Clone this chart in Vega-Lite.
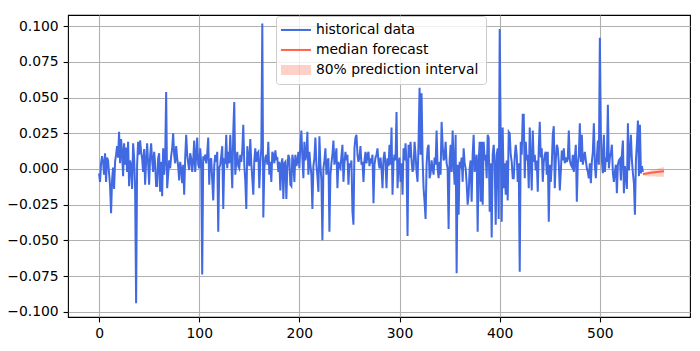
{
"$schema": "https://vega.github.io/schema/vega-lite/v6.json",
"width": 622, "height": 302,
"autosize": "none",
"padding": {"left": 68, "top": 15, "right": 10, "bottom": 34},
"background": "white",
"config": {
  "font": "DejaVu Sans",
  "view": {"stroke": "black", "strokeWidth": 1.1},
  "axis": {"grid": true, "gridColor": "#b0b0b0", "gridWidth": 1.1, "gridOpacity": 1, "domain": false, "tickColor": "black", "tickSize": 4.9, "tickWidth": 1.1, "labelFont": "DejaVu Sans", "labelFontSize": 13.9, "labelColor": "black", "labelPadding": 4.9, "labelOverlap": false, "title": null}
},
"datasets": {
"hist": [
{"x":0,"y":-0.003},{"x":1,"y":-0.009},{"x":2,"y":0.004},{"x":3,"y":0.009},{"x":4,"y":0.005},{"x":5,"y":-0.004},{"x":6,"y":0.011},{"x":7,"y":-0.009},{"x":8,"y":0.008},{"x":9,"y":0.006},
{"x":10,"y":-0.003},{"x":11,"y":-0.012},{"x":12,"y":-0.031},{"x":13,"y":-0.008},{"x":14,"y":0.001},{"x":15,"y":-0.014},{"x":16,"y":0.005},{"x":17,"y":0.010},{"x":18,"y":0.016},{"x":19,"y":0.008},
{"x":20,"y":0.026},{"x":21,"y":0.004},{"x":22,"y":0.021},{"x":23,"y":0.012},{"x":24,"y":-0.005},{"x":25,"y":0.018},{"x":26,"y":0.003},{"x":27,"y":0.015},{"x":28,"y":-0.002},{"x":29,"y":0.019},
{"x":30,"y":-0.012},{"x":31,"y":0.006},{"x":32,"y":0.002},{"x":33,"y":-0.014},{"x":34,"y":0.018},{"x":35,"y":0.008},{"x":36,"y":-0.013},{"x":37,"y":-0.094},{"x":38,"y":0.003},{"x":39,"y":0.019},
{"x":40,"y":0.010},{"x":41,"y":0.020},{"x":42,"y":0.012},{"x":43,"y":0.0075},{"x":44,"y":-0.002},{"x":45,"y":0.014},{"x":46,"y":-0.011},{"x":47,"y":0.006},{"x":48,"y":0.018},{"x":49,"y":0.004},
{"x":50,"y":-0.011},{"x":51,"y":0.009},{"x":52,"y":0.018},{"x":53,"y":0.006},{"x":54,"y":-0.002},{"x":55,"y":0.012},{"x":56,"y":0.004},{"x":57,"y":-0.012},{"x":58,"y":-0.012},{"x":59,"y":0.0075},
{"x":60,"y":0.011},{"x":61,"y":-0.016},{"x":62,"y":0.005},{"x":63,"y":-0.019},{"x":64,"y":0.0145},{"x":65,"y":-0.004},{"x":66,"y":0.006},{"x":67,"y":0.054},{"x":68,"y":-0.0135},{"x":69,"y":-0.004},
{"x":70,"y":0.006},{"x":71,"y":0.0005},{"x":72,"y":0.009},{"x":73,"y":0.0145},{"x":74,"y":0.025},{"x":75,"y":0.010},{"x":76,"y":0.004},{"x":77,"y":0.016},{"x":78,"y":0.0075},{"x":79,"y":0.002},
{"x":80,"y":-0.008},{"x":81,"y":0.005},{"x":82,"y":0.0005},{"x":83,"y":-0.010},{"x":84,"y":0.003},{"x":85,"y":-0.018},{"x":86,"y":0.008},{"x":87,"y":0.024},{"x":88,"y":0.010},{"x":89,"y":0.004},
{"x":90,"y":-0.0007},{"x":91,"y":0.011},{"x":92,"y":0.0075},{"x":93,"y":-0.002},{"x":94,"y":0.006},{"x":95,"y":0.020},{"x":96,"y":-0.002},{"x":97,"y":0.009},{"x":98,"y":0.022},{"x":99,"y":0.003},
{"x":100,"y":0.0005},{"x":101,"y":0.0145},{"x":102,"y":0.004},{"x":103,"y":-0.074},{"x":104,"y":0.009},{"x":105,"y":0.006},{"x":106,"y":0.010},{"x":107,"y":0.004},{"x":108,"y":0.011},{"x":109,"y":0.022},
{"x":110,"y":-0.011},{"x":111,"y":0.006},{"x":112,"y":0.0075},{"x":113,"y":-0.008},{"x":114,"y":-0.022},{"x":115,"y":0.002},{"x":116,"y":0.010},{"x":117,"y":0.005},{"x":118,"y":0.012},{"x":119,"y":-0.044},
{"x":120,"y":0.001},{"x":121,"y":0.003},{"x":122,"y":0.009},{"x":123,"y":0.016},{"x":124,"y":-0.028},{"x":125,"y":0.006},{"x":126,"y":0.005},{"x":127,"y":0.024},{"x":128,"y":0.0005},{"x":129,"y":0.012},
{"x":130,"y":0.004},{"x":131,"y":0.024},{"x":132,"y":0.006},{"x":133,"y":-0.0135},{"x":134,"y":0.026},{"x":135,"y":0.047},{"x":136,"y":-0.004},{"x":137,"y":0.005},{"x":138,"y":0.012},{"x":139,"y":0.002},
{"x":140,"y":0.0005},{"x":141,"y":0.010},{"x":142,"y":0.005},{"x":143,"y":0.013},{"x":144,"y":0.031},{"x":145,"y":0.003},{"x":146,"y":-0.008},{"x":147,"y":-0.028},{"x":148,"y":0.016},{"x":149,"y":0.0075},
{"x":150,"y":0.002},{"x":151,"y":0.021},{"x":152,"y":0.004},{"x":153,"y":-0.0065},{"x":154,"y":-0.018},{"x":155,"y":0.006},{"x":156,"y":0.0145},{"x":157,"y":0.005},{"x":158,"y":0.011},{"x":159,"y":0.012},
{"x":160,"y":-0.0135},{"x":161,"y":0.004},{"x":162,"y":0.0145},{"x":163,"y":0.102},{"x":164,"y":-0.034},{"x":165,"y":0.0005},{"x":166,"y":0.008},{"x":167,"y":0.010},{"x":168,"y":0.003},{"x":169,"y":0.019},
{"x":170,"y":-0.004},{"x":171,"y":0.005},{"x":172,"y":-0.009},{"x":173,"y":0.012},{"x":174,"y":0.010},{"x":175,"y":0.004},{"x":176,"y":0.013},{"x":177,"y":0.007},{"x":178,"y":0.0075},{"x":179,"y":-0.002},
{"x":180,"y":0.005},{"x":181,"y":-0.015},{"x":182,"y":0.003},{"x":183,"y":0.0075},{"x":184,"y":-0.021},{"x":185,"y":0.004},{"x":186,"y":0.005},{"x":187,"y":-0.021},{"x":188,"y":0.0005},{"x":189,"y":0.010},
{"x":190,"y":0.0075},{"x":191,"y":-0.011},{"x":192,"y":-0.012},{"x":193,"y":0.010},{"x":194,"y":0.005},{"x":195,"y":-0.009},{"x":196,"y":0.010},{"x":197,"y":0.002},{"x":198,"y":0.005},{"x":199,"y":0.012},
{"x":200,"y":0.0005},{"x":201,"y":0.017},{"x":202,"y":0.027},{"x":203,"y":0.0075},{"x":204,"y":-0.0065},{"x":205,"y":0.019},{"x":206,"y":0.006},{"x":207,"y":0.010},{"x":208,"y":0.026},{"x":209,"y":-0.004},
{"x":210,"y":0.012},{"x":211,"y":0.003},{"x":212,"y":-0.004},{"x":213,"y":-0.028},{"x":214,"y":0.002},{"x":215,"y":0.0075},{"x":216,"y":0.022},{"x":217,"y":0.003},{"x":218,"y":-0.005},{"x":219,"y":-0.016},
{"x":220,"y":0.023},{"x":221,"y":0.003},{"x":222,"y":-0.008},{"x":223,"y":-0.050},{"x":224,"y":0.0005},{"x":225,"y":0.006},{"x":226,"y":0.0145},{"x":227,"y":-0.004},{"x":228,"y":0.005},{"x":229,"y":0.0075},
{"x":230,"y":-0.044},{"x":231,"y":-0.004},{"x":232,"y":0.004},{"x":233,"y":0.010},{"x":234,"y":0.020},{"x":235,"y":0.003},{"x":236,"y":0.008},{"x":237,"y":0.0145},{"x":238,"y":-0.0135},{"x":239,"y":0.005},
{"x":240,"y":0.002},{"x":241,"y":0.0005},{"x":242,"y":0.009},{"x":243,"y":0.017},{"x":244,"y":-0.009},{"x":245,"y":0.004},{"x":246,"y":0.012},{"x":247,"y":0.006},{"x":248,"y":0.010},{"x":249,"y":-0.011},
{"x":250,"y":0.004},{"x":251,"y":0.001},{"x":252,"y":0.006},{"x":253,"y":-0.030},{"x":254,"y":-0.039},{"x":255,"y":0.0145},{"x":256,"y":0.022},{"x":257,"y":0.024},{"x":258,"y":0.010},{"x":259,"y":0.005},
{"x":260,"y":0.008},{"x":261,"y":0.016},{"x":262,"y":0.003},{"x":263,"y":0.005},{"x":264,"y":-0.009},{"x":265,"y":0.006},{"x":266,"y":0.012},{"x":267,"y":0.004},{"x":268,"y":0.010},{"x":269,"y":0.012},
{"x":270,"y":0.002},{"x":271,"y":0.0075},{"x":272,"y":0.004},{"x":273,"y":0.010},{"x":274,"y":-0.024},{"x":275,"y":0.003},{"x":276,"y":0.008},{"x":277,"y":0.010},{"x":278,"y":0.0145},{"x":279,"y":0.005},
{"x":280,"y":0.0005},{"x":281,"y":0.008},{"x":282,"y":0.0005},{"x":283,"y":-0.0135},{"x":284,"y":0.0075},{"x":285,"y":0.012},{"x":286,"y":0.004},{"x":287,"y":-0.0135},{"x":288,"y":0.0075},{"x":289,"y":0.002},
{"x":290,"y":0.017},{"x":291,"y":0.003},{"x":292,"y":0.029},{"x":293,"y":-0.018},{"x":294,"y":0.005},{"x":295,"y":0.010},{"x":296,"y":0.006},{"x":297,"y":0.040},{"x":298,"y":-0.0135},{"x":299,"y":0.003},
{"x":300,"y":0.008},{"x":301,"y":-0.009},{"x":302,"y":0.004},{"x":303,"y":-0.018},{"x":304,"y":0.0145},{"x":305,"y":0.006},{"x":306,"y":0.018},{"x":307,"y":0.004},{"x":308,"y":-0.047},{"x":309,"y":0.017},
{"x":310,"y":0.008},{"x":311,"y":0.019},{"x":312,"y":0.006},{"x":313,"y":-0.002},{"x":314,"y":0.0005},{"x":315,"y":0.019},{"x":316,"y":0.010},{"x":317,"y":-0.002},{"x":318,"y":-0.009},{"x":319,"y":0.019},
{"x":320,"y":0.057},{"x":321,"y":0.010},{"x":322,"y":0.053},{"x":323,"y":0.0075},{"x":324,"y":-0.0135},{"x":325,"y":-0.023},{"x":326,"y":-0.035},{"x":327,"y":0.003},{"x":328,"y":0.0145},{"x":329,"y":0.017},
{"x":330,"y":-0.0065},{"x":331,"y":-0.003},{"x":332,"y":0.006},{"x":333,"y":0.0005},{"x":334,"y":-0.004},{"x":335,"y":0.008},{"x":336,"y":0.003},{"x":337,"y":0.027},{"x":338,"y":0.0005},{"x":339,"y":-0.0065},
{"x":340,"y":0.005},{"x":341,"y":-0.004},{"x":342,"y":0.033},{"x":343,"y":0.017},{"x":344,"y":0.006},{"x":345,"y":0.0075},{"x":346,"y":0.019},{"x":347,"y":0.004},{"x":348,"y":0.0005},{"x":349,"y":-0.042},
{"x":350,"y":0.006},{"x":351,"y":0.017},{"x":352,"y":-0.002},{"x":353,"y":0.027},{"x":354,"y":0.004},{"x":355,"y":-0.011},{"x":356,"y":0.024},{"x":357,"y":-0.073},{"x":358,"y":0.003},{"x":359,"y":-0.032},
{"x":360,"y":0.005},{"x":361,"y":0.0005},{"x":362,"y":0.008},{"x":363,"y":-0.009},{"x":364,"y":0.0145},{"x":365,"y":0.004},{"x":366,"y":0.0005},{"x":367,"y":-0.010},{"x":368,"y":-0.025},{"x":369,"y":-0.018},
{"x":370,"y":0.0005},{"x":371,"y":0.006},{"x":372,"y":-0.023},{"x":373,"y":0.010},{"x":374,"y":0.024},{"x":375,"y":-0.002},{"x":376,"y":0.006},{"x":377,"y":0.010},{"x":378,"y":-0.044},{"x":379,"y":0.005},
{"x":380,"y":0.019},{"x":381,"y":-0.023},{"x":382,"y":0.019},{"x":383,"y":-0.025},{"x":384,"y":0.019},{"x":385,"y":0.006},{"x":386,"y":0.010},{"x":387,"y":-0.0065},{"x":388,"y":0.024},{"x":389,"y":0.022},
{"x":390,"y":-0.030},{"x":391,"y":0.004},{"x":392,"y":-0.048},{"x":393,"y":0.010},{"x":394,"y":0.017},{"x":395,"y":0.004},{"x":396,"y":-0.039},{"x":397,"y":0.010},{"x":398,"y":0.0145},{"x":399,"y":-0.035},
{"x":400,"y":0.098},{"x":401,"y":0.020},{"x":402,"y":-0.037},{"x":403,"y":0.029},{"x":404,"y":-0.0135},{"x":405,"y":0.004},{"x":406,"y":-0.018},{"x":407,"y":0.006},{"x":408,"y":-0.022},{"x":409,"y":0.026},
{"x":410,"y":0.025},{"x":411,"y":0.010},{"x":412,"y":0.005},{"x":413,"y":-0.0065},{"x":414,"y":-0.0065},{"x":415,"y":0.008},{"x":416,"y":0.017},{"x":417,"y":0.010},{"x":418,"y":-0.009},{"x":419,"y":0.004},
{"x":420,"y":-0.072},{"x":421,"y":0.019},{"x":422,"y":0.010},{"x":423,"y":0.038},{"x":424,"y":0.038},{"x":425,"y":-0.0065},{"x":426,"y":0.019},{"x":427,"y":0.006},{"x":428,"y":0.010},{"x":429,"y":-0.0135},
{"x":430,"y":0.029},{"x":431,"y":0.006},{"x":432,"y":-0.015},{"x":433,"y":0.027},{"x":434,"y":0.005},{"x":435,"y":0.010},{"x":436,"y":-0.001},{"x":437,"y":0.006},{"x":438,"y":-0.016},{"x":439,"y":0.0145},
{"x":440,"y":0.033},{"x":441,"y":0.008},{"x":442,"y":0.0145},{"x":443,"y":-0.009},{"x":444,"y":0.005},{"x":445,"y":0.010},{"x":446,"y":0.012},{"x":447,"y":-0.004},{"x":448,"y":0.012},{"x":449,"y":-0.037},
{"x":450,"y":0.003},{"x":451,"y":-0.009},{"x":452,"y":0.003},{"x":453,"y":0.024},{"x":454,"y":0.030},{"x":455,"y":-0.0135},{"x":456,"y":0.006},{"x":457,"y":0.017},{"x":458,"y":0.0145},{"x":459,"y":0.004},
{"x":460,"y":-0.015},{"x":461,"y":-0.002},{"x":462,"y":0.013},{"x":463,"y":0.006},{"x":464,"y":0.0145},{"x":465,"y":0.004},{"x":466,"y":0.008},{"x":467,"y":0.005},{"x":468,"y":0.0075},{"x":469,"y":0.027},
{"x":470,"y":0.006},{"x":471,"y":0.003},{"x":472,"y":0.0016},{"x":473,"y":0.010},{"x":474,"y":-0.002},{"x":475,"y":0.008},{"x":476,"y":0.017},{"x":477,"y":-0.023},{"x":478,"y":0.004},{"x":479,"y":0.010},
{"x":480,"y":0.032},{"x":481,"y":0.005},{"x":482,"y":0.024},{"x":483,"y":0.003},{"x":484,"y":0.0075},{"x":485,"y":0.012},{"x":486,"y":0.006},{"x":487,"y":0.0005},{"x":488,"y":-0.002},{"x":489,"y":-0.0065},
{"x":490,"y":0.004},{"x":491,"y":-0.010},{"x":492,"y":0.005},{"x":493,"y":0.012},{"x":494,"y":0.032},{"x":495,"y":0.003},{"x":496,"y":-0.0065},{"x":497,"y":0.008},{"x":498,"y":0.020},{"x":499,"y":0.003},
{"x":500,"y":0.092},{"x":501,"y":0.025},{"x":502,"y":0.006},{"x":503,"y":-0.003},{"x":504,"y":0.024},{"x":505,"y":-0.002},{"x":506,"y":0.008},{"x":507,"y":0.005},{"x":508,"y":0.045},{"x":509,"y":0.0005},
{"x":510,"y":0.008},{"x":511,"y":0.011},{"x":512,"y":0.017},{"x":513,"y":-0.003},{"x":514,"y":-0.009},{"x":515,"y":-0.002},{"x":516,"y":0.003},{"x":517,"y":-0.017},{"x":518,"y":0.003},{"x":519,"y":0.006},
{"x":520,"y":0.007},{"x":521,"y":-0.008},{"x":522,"y":0.010},{"x":523,"y":0.020},{"x":524,"y":-0.017},{"x":525,"y":0.002},{"x":526,"y":-0.005},{"x":527,"y":-0.014},{"x":528,"y":0.032},{"x":529,"y":-0.001},
{"x":530,"y":0.012},{"x":531,"y":0.024},{"x":532,"y":0.006},{"x":533,"y":-0.003},{"x":534,"y":-0.010},{"x":535,"y":-0.032},{"x":536,"y":0.006},{"x":537,"y":0.018},{"x":538,"y":0.034},{"x":539,"y":-0.005},
{"x":540,"y":0.031},{"x":541,"y":-0.003},{"x":542,"y":0.002},{"x":543,"y":-0.002}
],
"fc": [
{"x":543,"m":-0.0035,"lo":-0.0045,"hi":-0.003},
{"x":547,"m":-0.0031,"lo":-0.005,"hi":-0.002},
{"x":551,"m":-0.0027,"lo":-0.0052,"hi":-0.001},
{"x":555,"m":-0.0023,"lo":-0.0053,"hi":-0.0002},
{"x":559,"m":-0.0019,"lo":-0.0054,"hi":0.0006},
{"x":564,"m":-0.0015,"lo":-0.0055,"hi":0.0014}
]
},
"layer": [
{
  "data": {"name": "hist"},
  "mark": {"type": "line", "strokeWidth": 2, "clip": true},
  "encoding": {
    "x": {"field": "x", "type": "quantitative", "scale": {"domain": [-31, 590], "nice": false, "zero": false}, "axis": {"values": [0,100,200,300,400,500], "tickCount": 20, "format": "d"}},
    "y": {"field": "y", "type": "quantitative", "scale": {"domain": [-0.1037, 0.1079], "nice": false, "zero": false}, "axis": {"values": [-0.1,-0.075,-0.05,-0.025,0,0.025,0.05,0.075,0.1], "tickCount": 20, "format": ".3f"}},
    "color": {"datum": "historical data", "type": "nominal",
      "scale": {"domain": ["historical data", "median forecast", "80% prediction interval"], "range": ["#4169e1", "#ff6347", "#ff6347"]},
      "legend": {"title": null, "orient": "none", "legendX": 208, "legendY": 1, "padding": 7,
        "fillColor": "rgba(255,255,255,0.8)", "strokeColor": "#cccccc", "cornerRadius": 3,
        "labelFont": "DejaVu Sans", "labelFontSize": 13.9, "labelColor": "black", "labelLimit": 400,
        "symbolSize": 100, "symbolOffset": 6, "labelOffset": 13, "rowPadding": 5,
        "encode": {"symbols": {"update": {
          "shape": {"signal": "datum.value === '80% prediction interval' ? 'M-3,-1H3V1H-3Z' : 'M-3,0H3'"},
          "fill": {"signal": "datum.value === '80% prediction interval' ? '#ff6347' : 'transparent'"},
          "fillOpacity": {"signal": "datum.value === '80% prediction interval' ? 0.3 : 0"},
          "stroke": {"signal": "datum.value === 'historical data' ? '#4169e1' : '#ff6347'"},
          "strokeOpacity": {"signal": "datum.value === '80% prediction interval' ? 0 : 1"},
          "strokeWidth": {"signal": "datum.value === '80% prediction interval' ? 0 : 2"},
          "opacity": {"value": 1}
        }}}
      }
    }
  }
},
{
  "data": {"name": "fc"},
  "mark": {"type": "area", "opacity": 0.3},
  "encoding": {
    "x": {"field": "x", "type": "quantitative"},
    "y": {"field": "lo", "type": "quantitative"},
    "y2": {"field": "hi"},
    "color": {"datum": "80% prediction interval", "type": "nominal"}
  }
},
{
  "data": {"name": "fc"},
  "mark": {"type": "line", "strokeWidth": 2},
  "encoding": {
    "x": {"field": "x", "type": "quantitative"},
    "y": {"field": "m", "type": "quantitative"},
    "color": {"datum": "median forecast", "type": "nominal"}
  }
}
]
}
